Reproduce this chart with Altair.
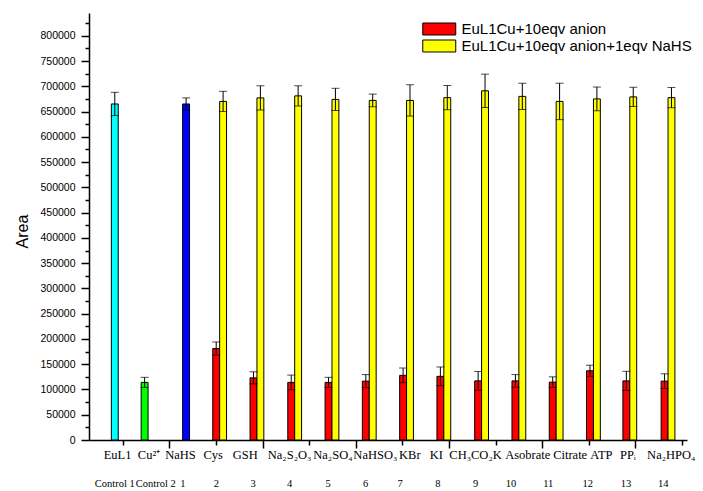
import altair as alt
import pandas as pd

# Controls (single bars)
control_series = ["EuL1", "Cu2+", "NaHS"]
control_values = [665000, 114000, 665000]
control_errors = [23000, 10000, 12000]
control_colors = ["#00ffff", "#00ff00", "#0000ff"]
control_pos = [0.83, 1.47, 2.36]

# Anions: EuL1Cu + 10 eqv anion, then + 1 eqv NaHS
anion_pos = [3.08, 3.88, 4.69, 5.49, 6.29, 7.09, 7.89, 8.70, 9.50, 10.30, 11.10, 11.88, 12.70]
anion_values = [181000, 123000, 114000, 114000, 116500, 128000, 126000,
                117000, 117000, 114500, 137000, 117000, 116500]
anion_errors = [13000, 12000, 14500, 10000, 13000, 14500, 18500,
                18500, 12500, 10500, 11000, 19000, 14500]
nahs_values = [670000, 677000, 681000, 674000, 672000, 672000, 677500,
               691000, 680000, 670000, 675000, 679000, 677500]
nahs_errors = [20000, 24000, 20000, 22000, 12500, 31000, 24000,
               33000, 26000, 36000, 23500, 19000, 20000]

series_anion = "EuL1Cu+10eqv anion"
series_nahs = "EuL1Cu+10eqv anion+1eqv NaHS"

# Axis labels below the plot
name_labels = ["EuL1", "Cu²⁺", "NaHS", "Cys", "GSH", "Na₂S₂O₃", "Na₂SO₄", "NaHSO₃",
               "KBr", "KI", "CH₃CO₂K", "Asobrate", "Citrate", "ATP", "PPᵢ", "Na₂HPO₄"]
name_label_pos = [0.89, 1.565, 2.24, 2.94, 3.63, 4.58, 5.51, 6.42,
                  7.16, 7.73, 8.57, 9.69, 10.60, 11.27, 11.84, 12.77]
number_labels = ["Control 1", "Control 2"] + [str(i) for i in range(1, 15)]
number_label_pos = [0.83, 1.71, 2.29, 3.01, 3.80, 4.58, 5.41, 6.21,
                    6.95, 7.76, 8.57, 9.33, 10.13, 10.98, 11.80, 12.60]

half = 0.074  # half bar width in axis units

rows = []
for s, v, e, p in zip(control_series, control_values, control_errors, control_pos):
    rows.append(dict(series=s, c=p, x0=p - half, x1=p + half, value=v, err=e))
for p, va, ea, vn, en in zip(anion_pos, anion_values, anion_errors, nahs_values, nahs_errors):
    rows.append(dict(series=series_anion, c=p - half, x0=p - 2 * half, x1=p, value=va, err=ea))
    rows.append(dict(series=series_nahs, c=p + half, x0=p, x1=p + 2 * half, value=vn, err=en))
bars = pd.DataFrame(rows)
bars["lo"] = bars["value"] - bars["err"]
bars["hi"] = bars["value"] + bars["err"]
caps = pd.concat([bars[["c"]].assign(y=bars["lo"]), bars[["c"]].assign(y=bars["hi"])])

names_df = pd.DataFrame({"pos": name_label_pos, "label": name_labels})
numbers_df = pd.DataFrame({"pos": number_label_pos, "label": number_labels})

xscale = alt.Scale(domain=[0.384, 13], nice=False, zero=False)
yscale = alt.Scale(domain=[0, 845000], nice=False)

color_domain = control_series + [series_anion, series_nahs]
color_range = control_colors + ["#ff0000", "#ffff00"]

# wide flat swatch: path spans +-2 units, so it is twice sqrt(symbolSize) wide
swatch = "M-2,-0.727L2,-0.727L2,0.727L-2,0.727Z"

bar_layer = alt.Chart(bars).mark_bar(stroke="black", strokeWidth=1, opacity=1,
                                     orient="vertical").encode(
    x=alt.X("x0:Q", scale=xscale,
            axis=alt.Axis(title=None, values=[2, 4, 6, 8, 10, 12], labels=False,
                          tickSize=8, tickWidth=1.5, domainWidth=1.5, grid=False,
                          orient="bottom", domainColor="black", tickColor="black")),
    x2="x1:Q",
    y=alt.Y("value:Q", scale=yscale,
            axis=alt.Axis(title="Area", values=list(range(0, 800001, 50000)), format="d",
                          tickSize=8, tickWidth=1.5, domainWidth=1.5, grid=False,
                          orient="left", labelPadding=6,
                          labelFont="Liberation Sans", labelFontSize=10.5, labelColor="black",
                          titleFont="Liberation Sans", titleFontSize=16, titleFontWeight="normal",
                          titleColor="black", titleX=-67, titleY=218, titleBaseline="middle",
                          domainColor="black", tickColor="black")),
    y2=alt.datum(0),
    color=alt.Color("series:N", scale=alt.Scale(domain=color_domain, range=color_range),
                    legend=alt.Legend(values=[series_anion, series_nahs], title=None,
                                      orient="none", legendX=341.25, legendY=7,
                                      symbolType=swatch,
                                      symbolSize=272, symbolStrokeColor="black",
                                      symbolStrokeWidth=1, symbolOpacity=1,
                                      labelFont="Liberation Sans", labelFontSize=15,
                                      labelColor="black", labelOffset=13.25, rowPadding=0,
                                      padding=0, labelLimit=400)),
)

err_layer = alt.Chart(bars).mark_rule(color="black", strokeWidth=1).encode(
    x=alt.X("c:Q", scale=xscale,
            axis=alt.Axis(title=None, values=[1, 3, 5, 7, 9, 11, 13], labels=False,
                          tickSize=5, tickWidth=1.5, domain=False, grid=False,
                          orient="bottom", tickColor="black")),
    y=alt.Y("lo:Q", scale=yscale,
            axis=alt.Axis(title=None, values=list(range(25000, 825001, 50000)), labels=False,
                          tickSize=4, tickWidth=1.5, domain=False, grid=False,
                          orient="left", tickColor="black")),
    y2="hi:Q",
)

cap_layer = alt.Chart(caps).mark_tick(color="black", thickness=1, size=8,
                                      orient="horizontal").encode(
    x=alt.X("c:Q", scale=xscale, axis=None),
    y=alt.Y("y:Q", scale=yscale, axis=None),
)

names_layer = alt.Chart(names_df).mark_text(
    font="Liberation Serif", fontSize=12.5, baseline="alphabetic", align="center", color="black"
).encode(
    x=alt.X("pos:Q", scale=xscale, axis=None),
    y=alt.value(446),
    text="label:N",
)

numbers_layer = alt.Chart(numbers_df).mark_text(
    font="Liberation Serif", fontSize=10.5, baseline="alphabetic", align="center", color="black"
).encode(
    x=alt.X("pos:Q", scale=xscale, axis=None),
    y=alt.value(474),
    text="label:N",
)

chart = alt.layer(bar_layer, err_layer, cap_layer, names_layer, numbers_layer).resolve_axis(
    x="independent", y="independent"
).properties(
    width=598,
    height=427,
    autosize=alt.AutoSizeParams(type="none"),
    padding={"left": 89, "top": 13, "right": 16, "bottom": 51},
    background="white",
).configure_view(stroke=None)

chart.save("out.html", embed_options={"renderer": "svg", "actions": False})
